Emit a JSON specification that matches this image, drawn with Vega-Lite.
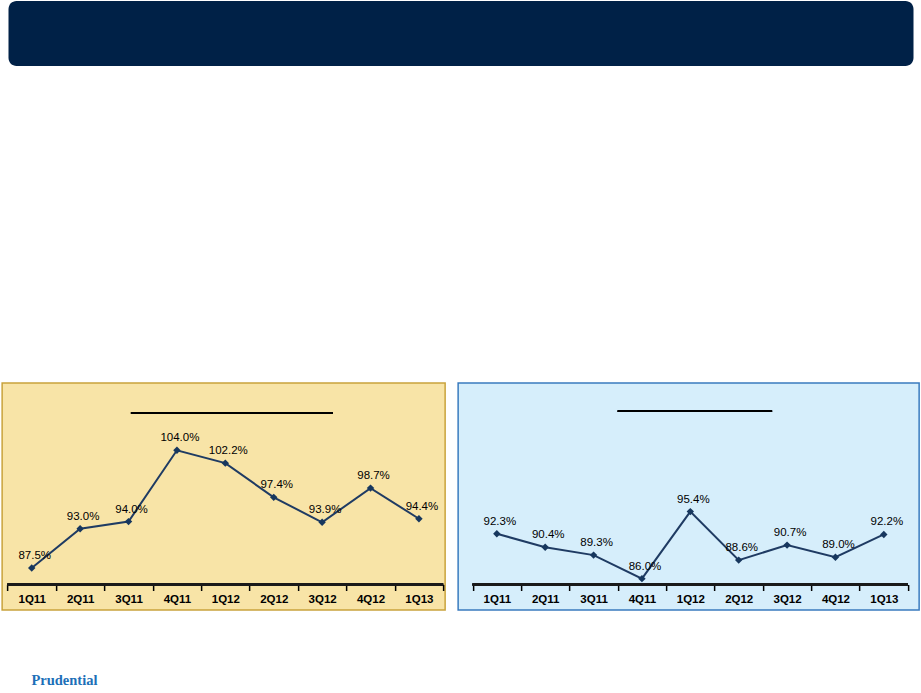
{
  "$schema": "https://vega.github.io/schema/vega-lite/v6.json",
  "background": "white",
  "padding": {"left": 1, "top": 1, "right": 0, "bottom": 0},
  "config": {"font": "Liberation Sans"},
  "title": {"text": "Prudential", "orient": "bottom", "anchor": "start", "dx": 30, "offset": 63, "font": "Liberation Serif", "fontSize": 14.5, "fontWeight": "bold", "color": "#1D6FB8"},
  "datasets": {
    "left": [
      {"q": "1Q11", "v": 0.875},
      {"q": "2Q11", "v": 0.930},
      {"q": "3Q11", "v": 0.940},
      {"q": "4Q11", "v": 1.040},
      {"q": "1Q12", "v": 1.022},
      {"q": "2Q12", "v": 0.974},
      {"q": "3Q12", "v": 0.939},
      {"q": "4Q12", "v": 0.987},
      {"q": "1Q13", "v": 0.944}
    ],
    "right": [
      {"q": "1Q11", "v": 0.923},
      {"q": "2Q11", "v": 0.904},
      {"q": "3Q11", "v": 0.893},
      {"q": "4Q11", "v": 0.860},
      {"q": "1Q12", "v": 0.954},
      {"q": "2Q12", "v": 0.886},
      {"q": "3Q12", "v": 0.907},
      {"q": "4Q12", "v": 0.890},
      {"q": "1Q13", "v": 0.922}
    ]
  },
  "spacing": 316,
  "center": true,
  "vconcat": [
    {
      "width": 905,
      "height": 65,
      "view": {"stroke": null},
      "data": {"values": [{}]},
      "mark": {"type": "rect", "fill": "#002147", "cornerRadius": 8},
      "encoding": {}
    },
    {
      "spacing": 11,
      "hconcat": [
        {
          "width": 443,
          "height": 227,
          "view": {"fill": "#F8E4A7", "stroke": "#C9A33C", "strokeWidth": 1.5},
          "data": {"name": "left"},
          "layer": [
            {
              "mark": {"type": "line", "color": "#1F3B63", "strokeWidth": 2},
              "encoding": {
                "x": {"field": "q", "type": "ordinal", "sort": null,
                  "scale": {"type": "band", "paddingInner": 0, "paddingOuter": 0.0765, "align": 0.73},
                  "axis": {"title": null, "orient": "bottom", "offset": -25.5, "domain": false, "tickBand": "extent", "tickSize": 6, "tickWidth": 1.5, "tickColor": "#000000", "labelFontSize": 11.5, "labelFontWeight": "bold", "labelColor": "#000000", "labelPadding": 3, "labelAngle": 0, "grid": false}},
                "y": {"field": "v", "type": "quantitative", "scale": {"domain": [0.816, 1.1344], "nice": false, "zero": false}, "axis": null}
              }
            },
            {
              "mark": {"type": "point", "shape": "diamond", "filled": true, "size": 55, "color": "#17375E", "opacity": 1},
              "encoding": {
                "x": {"field": "q", "type": "ordinal", "sort": null},
                "y": {"field": "v", "type": "quantitative"}
              }
            },
            {
              "mark": {"type": "text", "dy": -12, "dx": 3, "fontSize": 11.5, "color": "#000000"},
              "encoding": {
                "x": {"field": "q", "type": "ordinal", "sort": null},
                "y": {"field": "v", "type": "quantitative"},
                "text": {"field": "v", "type": "quantitative", "format": ".1%"}
              }
            },
            {
              "mark": {"type": "rule", "color": "#1A1A1A", "strokeWidth": 2},
              "encoding": {
                "x": {"datum": "1Q11", "type": "ordinal", "bandPosition": 0},
                "x2": {"datum": "1Q13", "bandPosition": 1},
                "y": {"datum": 0.8518, "type": "quantitative"}
              }
            },
            {
              "mark": {"type": "rule", "color": "#000000", "strokeWidth": 1.3},
              "encoding": {
                "x": {"datum": "3Q11", "type": "ordinal", "bandPosition": 0.55},
                "x2": {"datum": "3Q12", "bandPosition": 0.72},
                "y": {"datum": 1.0923, "type": "quantitative"}
              }
            }
          ]
        },
        {
          "width": 461,
          "height": 227,
          "view": {"fill": "#D6EEFB", "stroke": "#3A7BBF", "strokeWidth": 1.5},
          "data": {"name": "right"},
          "layer": [
            {
              "mark": {"type": "line", "color": "#1F3B63", "strokeWidth": 2},
              "encoding": {
                "x": {"field": "q", "type": "ordinal", "sort": null,
                  "scale": {"type": "band", "paddingInner": 0, "paddingOuter": 0.265, "align": 0.566},
                  "axis": {"title": null, "orient": "bottom", "offset": -25.5, "domain": false, "tickBand": "extent", "tickSize": 6, "tickWidth": 1.5, "tickColor": "#000000", "labelFontSize": 11.5, "labelFontWeight": "bold", "labelColor": "#000000", "labelPadding": 3, "labelAngle": 0, "grid": false}},
                "y": {"field": "v", "type": "quantitative", "scale": {"domain": [0.816, 1.1344], "nice": false, "zero": false}, "axis": null}
              }
            },
            {
              "mark": {"type": "point", "shape": "diamond", "filled": true, "size": 55, "color": "#17375E", "opacity": 1},
              "encoding": {
                "x": {"field": "q", "type": "ordinal", "sort": null},
                "y": {"field": "v", "type": "quantitative"}
              }
            },
            {
              "mark": {"type": "text", "dy": -12, "dx": 3, "fontSize": 11.5, "color": "#000000"},
              "encoding": {
                "x": {"field": "q", "type": "ordinal", "sort": null},
                "y": {"field": "v", "type": "quantitative"},
                "text": {"field": "v", "type": "quantitative", "format": ".1%"}
              }
            },
            {
              "mark": {"type": "rule", "color": "#1A1A1A", "strokeWidth": 2},
              "encoding": {
                "x": {"datum": "1Q11", "type": "ordinal", "bandPosition": 0},
                "x2": {"datum": "1Q13", "bandPosition": 1},
                "y": {"datum": 0.8518, "type": "quantitative"}
              }
            },
            {
              "mark": {"type": "rule", "color": "#000000", "strokeWidth": 1.3},
              "encoding": {
                "x": {"datum": "4Q11", "type": "ordinal", "bandPosition": 0},
                "x2": {"datum": "3Q12", "bandPosition": 0.19},
                "y": {"datum": 1.095, "type": "quantitative"}
              }
            }
          ]
        }
      ]
    }
  ]
}
